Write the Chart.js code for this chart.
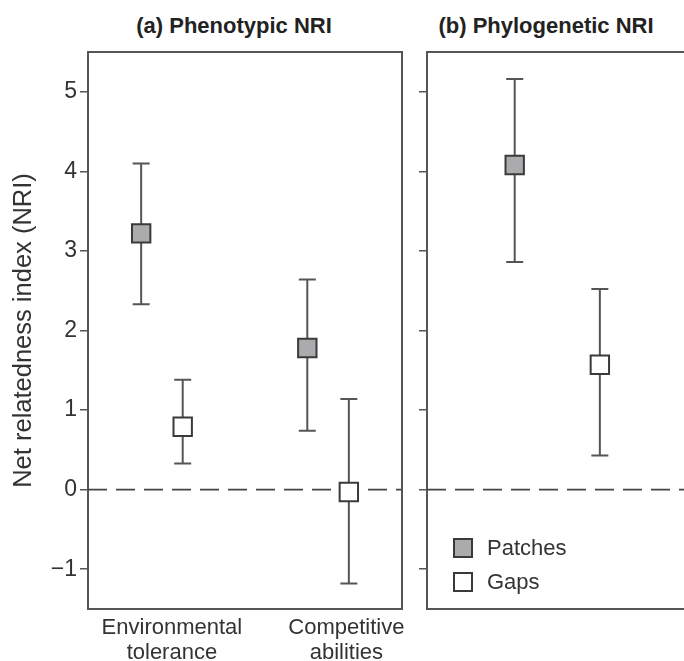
<!DOCTYPE html>
<html>
<head>
<meta charset="utf-8">
<script src="https://cdn.jsdelivr.net/npm/chart.js@4.4.1/dist/chart.umd.min.js"></script>
<style>
  html, body { margin: 0; padding: 0; background: #fff; overflow: hidden; width: 684px; height: 661px; }
  #wrap { position: relative; width: 684px; height: 661px; overflow: hidden; }
  canvas { position: absolute; top: 0; }
  .ttl { position: absolute; top: 13px; font: bold 22px "Liberation Sans", Arial, sans-serif; color: #222; white-space: nowrap; transform: translateX(-50%); }
</style>
</head>
<body>
<div id="wrap">
  <div class="ttl" style="left:234px">(a) Phenotypic NRI</div>
  <div class="ttl" style="left:546px">(b) Phylogenetic NRI</div>
  <canvas id="chartA" width="415" height="661" style="left:0"></canvas>
  <canvas id="chartB" width="280" height="661" style="left:415px"></canvas>
</div>
<script>
// data
var categories = [['Environmental', 'tolerance'], ['Competitive', 'abilities']];
var yTicks = [-1, 0, 1, 2, 3, 4, 5];

// (a) phenotypic NRI, one value per category
var phenoPatches = [3.22, 1.78];
var phenoPatchesLo = [2.33, 0.74];
var phenoPatchesHi = [4.10, 2.64];
var phenoGaps = [0.79, -0.03];
var phenoGapsLo = [0.33, -1.18];
var phenoGapsHi = [1.38, 1.14];

// (b) phylogenetic NRI
var phyloPatches = [4.08];
var phyloPatchesLo = [2.86];
var phyloPatchesHi = [5.16];
var phyloGaps = [1.57];
var phyloGapsLo = [0.43];
var phyloGapsHi = [2.52];

var FONT = '"Liberation Sans", Arial, sans-serif';
var INK = '#555';
var TXT = '#333';
var PATCH_FILL = '#ababad';

function points(vals, centers, shift){
    return vals.map(function(v, i){ return {x: centers[i] + shift, y: v}; });
}

function markerSet(label, vals, lo, hi, centers, shift, fill){
    return {
        type: 'scatter',
        label: label,
        data: points(vals, centers, shift),
        lo: lo,
        hi: hi,
        pointStyle: 'rect',
        pointRadius: 13,
        pointHoverRadius: 13,
        pointBackgroundColor: fill,
        pointBorderColor: '#3a3a3a',
        pointBorderWidth: 2
    };
}

function zeroLine(xmin, xmax){
    return {
        type: 'line',
        label: 'zero',
        data: [{x: xmin, y: 0}, {x: xmax, y: 0}],
        borderColor: '#444',
        borderWidth: 1.8,
        borderDash: [19, 9],
        pointRadius: 0,
        fill: false
    };
}

// error bars + frame (top/right edges)
var errorBars = {
    id: 'errorBars',
    beforeDatasetsDraw: function(chart){
        var ctx = chart.ctx, xs = chart.scales.x, ys = chart.scales.y;
        ctx.save();
        ctx.strokeStyle = INK;
        ctx.lineWidth = 2;
        chart.data.datasets.forEach(function(ds){
            if(!ds.lo) return;
            ds.data.forEach(function(p, i){
                var px = xs.getPixelForValue(p.x);
                var top = ys.getPixelForValue(ds.hi[i]);
                var bot = ys.getPixelForValue(ds.lo[i]);
                ctx.beginPath();
                ctx.moveTo(px, top); ctx.lineTo(px, bot);
                ctx.moveTo(px - 8.5, top); ctx.lineTo(px + 8.5, top);
                ctx.moveTo(px - 8.5, bot); ctx.lineTo(px + 8.5, bot);
                ctx.stroke();
            });
        });
        ctx.restore();
    },
    afterDraw: function(chart){
        var a = chart.chartArea, ctx = chart.ctx;
        ctx.save();
        ctx.strokeStyle = INK;
        ctx.lineWidth = 2;
        ctx.beginPath();
        ctx.moveTo(a.left, a.top); ctx.lineTo(a.right, a.top); ctx.lineTo(a.right, a.bottom);
        ctx.stroke();
        ctx.restore();
    }
};

// legend drawn inside panel (b)
var boxLegend = {
    id: 'boxLegend',
    afterDraw: function(chart){
        if(!chart.options.plugins.boxLegend.show) return;
        var ctx = chart.ctx;
        var items = chart.data.datasets.filter(function(d){ return d.lo; });
        ctx.save();
        ctx.font = '22px ' + FONT;
        ctx.textBaseline = 'middle';
        items.forEach(function(d, i){
            var y = 548 + i * 34;
            ctx.fillStyle = d.pointBackgroundColor;
            ctx.fillRect(39, y - 9, 18, 18);
            ctx.strokeStyle = '#3a3a3a';
            ctx.lineWidth = 2;
            ctx.strokeRect(39, y - 9, 18, 18);
            ctx.fillStyle = TXT;
            ctx.fillText(d.label, 72, y + 1);
        });
        ctx.restore();
    }
};

function yScale(width, showLabels){
    return {
        type: 'linear',
        min: -1.5,
        max: 5.5,
        afterBuildTicks: function(s){ s.ticks = yTicks.map(function(v){ return {value: v}; }); },
        afterFit: function(s){ s.width = width; },
        border: {display: true, color: INK, width: 2},
        grid: {drawOnChartArea: false, drawTicks: true, tickLength: 8, color: INK, lineWidth: 1.5},
        ticks: {
            display: showLabels,
            padding: 3,
            color: TXT,
            font: {family: FONT, size: 23},
            callback: function(v){ return v < 0 ? '\u2212' + Math.abs(v) : '' + v; }
        },
        title: {
            display: showLabels,
            text: 'Net relatedness index (NRI)',
            color: TXT,
            font: {family: FONT, size: 25.5},
            padding: {top: 9, bottom: 0}
        }
    };
}

// panel (a)
var centersA = [1, 3];
var labelPosA = [1.12, 3.22];
new Chart(document.getElementById('chartA'), {
    data: {
        datasets: [
            markerSet('Patches', phenoPatches, phenoPatchesLo, phenoPatchesHi, centersA, -0.25, PATCH_FILL),
            markerSet('Gaps', phenoGaps, phenoGapsLo, phenoGapsHi, centersA, 0.25, '#ffffff'),
            zeroLine(0.11, 3.89)
        ]
    },
    options: {
        responsive: false,
        animation: false,
        events: [],
        layout: {autoPadding: false, padding: {top: 52, right: 13, left: 0, bottom: 0}},
        plugins: {legend: {display: false}, tooltip: {enabled: false}, boxLegend: {show: false}},
        scales: {
            x: {
                type: 'linear',
                min: 0.11,
                max: 3.89,
                afterBuildTicks: function(s){ s.ticks = labelPosA.map(function(v){ return {value: v}; }); },
                afterFit: function(s){ s.height = 52; },
                border: {display: true, color: INK, width: 2},
                grid: {display: false, drawTicks: false},
                ticks: {
                    padding: 6,
                    color: TXT,
                    maxRotation: 0,
                    font: {family: FONT, size: 22, lineHeight: 1.14},
                    callback: function(v, i){ return categories[i]; }
                }
            },
            y: yScale(88, true)
        }
    },
    plugins: [errorBars, boxLegend]
});

// panel (b)
var centersB = [1.5];
new Chart(document.getElementById('chartB'), {
    data: {
        datasets: [
            markerSet('Patches', phyloPatches, phyloPatchesLo, phyloPatchesHi, centersB, -0.5, PATCH_FILL),
            markerSet('Gaps', phyloGaps, phyloGapsLo, phyloGapsHi, centersB, 0.5, '#ffffff'),
            zeroLine(-0.03, 3)
        ]
    },
    options: {
        responsive: false,
        animation: false,
        events: [],
        layout: {autoPadding: false, padding: {top: 52, right: 10, left: 0, bottom: 0}},
        plugins: {legend: {display: false}, tooltip: {enabled: false}, boxLegend: {show: true}},
        scales: {
            x: {
                type: 'linear',
                min: -0.03,
                max: 3,
                afterFit: function(s){ s.height = 52; },
                border: {display: true, color: INK, width: 2},
                grid: {display: false, drawTicks: false},
                ticks: {display: false}
            },
            y: yScale(12, false)
        }
    },
    plugins: [errorBars, boxLegend]
});
</script>
</body>
</html>
